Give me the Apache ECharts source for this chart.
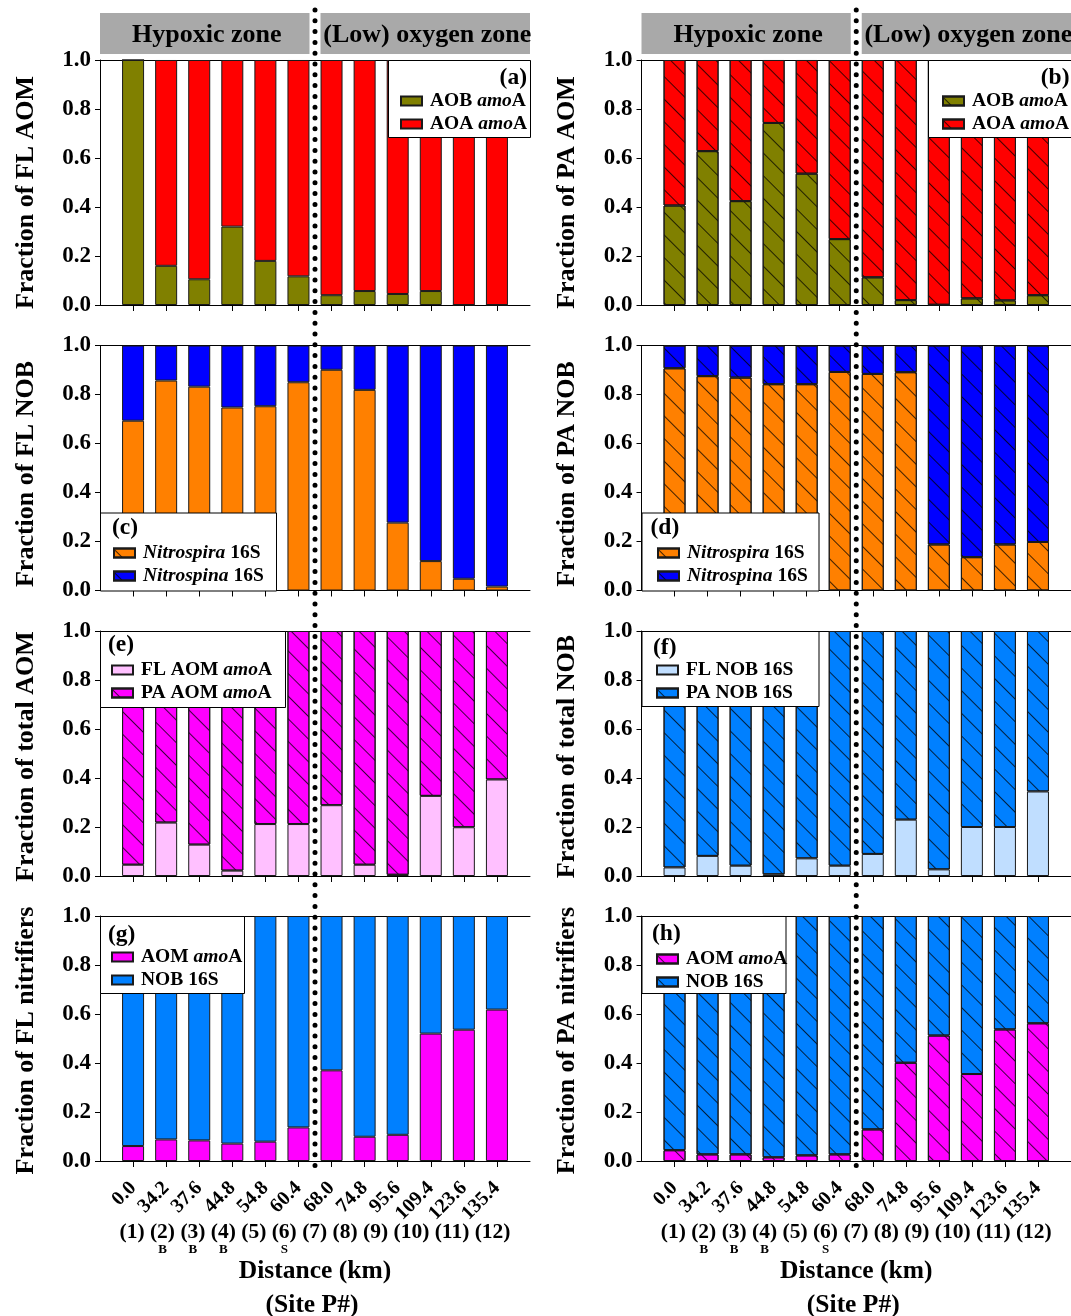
<!DOCTYPE html>
<html>
<head>
<meta charset="utf-8">
<script src="https://cdn.jsdelivr.net/npm/echarts@6/dist/echarts.min.js"></script>
<style>
  html, body { margin: 0; padding: 0; background: #ffffff; }
  #chart { width: 1071px; height: 1316px; }
</style>
</head>
<body>
<div id="chart"></div>
<script>
// ---- data -----------------------------------------------------------------
const DISTANCES = ['0.0', '34.2', '37.6', '44.8', '54.8', '60.4', '68.0', '74.8', '95.6', '109.4', '123.6', '135.4'];
const SITES = ['(1)', '(2)', '(3)', '(4)', '(5)', '(6)', '(7)', '(8)', '(9)', '(10)', '(11)', '(12)'];
const SITE_SUBS = ['', 'B', 'B', 'B', '', 'S', '', '', '', '', '', ''];
const ZONES = ['Hypoxic zone', '(Low) oxygen zone'];

// (a) free-living ammonia oxidisers
const FL_AOB_AMOA = [1.000, 0.160, 0.105, 0.320, 0.180, 0.117, 0.040, 0.057, 0.045, 0.057, 0.000, 0.000];
const FL_AOA_AMOA = [0.000, 0.840, 0.895, 0.680, 0.820, 0.883, 0.960, 0.943, 0.955, 0.943, 1.000, 1.000];
// (b) particle-attached ammonia oxidisers
const PA_AOB_AMOA = [0.406, 0.628, 0.424, 0.743, 0.536, 0.269, 0.113, 0.020, 0.001, 0.027, 0.019, 0.040];
const PA_AOA_AMOA = [0.594, 0.372, 0.576, 0.257, 0.464, 0.731, 0.887, 0.980, 0.999, 0.973, 0.981, 0.960];
// (c) free-living nitrite oxidisers
const FL_NITROSPIRA = [0.693, 0.857, 0.832, 0.747, 0.752, 0.850, 0.901, 0.819, 0.277, 0.120, 0.048, 0.016];
const FL_NITROSPINA = [0.307, 0.143, 0.168, 0.253, 0.248, 0.150, 0.099, 0.181, 0.723, 0.880, 0.952, 0.984];
// (d) particle-attached nitrite oxidisers
const PA_NITROSPIRA = [0.907, 0.875, 0.869, 0.842, 0.842, 0.892, 0.884, 0.891, 0.188, 0.136, 0.188, 0.198];
const PA_NITROSPINA = [0.093, 0.125, 0.131, 0.158, 0.158, 0.108, 0.116, 0.109, 0.812, 0.864, 0.812, 0.802];
// (e) total AOM split by lifestyle
const TOT_FL_AOM = [0.046, 0.218, 0.128, 0.022, 0.212, 0.212, 0.289, 0.046, 0.005, 0.327, 0.199, 0.394];
const TOT_PA_AOM = [0.954, 0.782, 0.872, 0.978, 0.788, 0.788, 0.711, 0.954, 0.995, 0.673, 0.801, 0.606];
// (f) total NOB split by lifestyle
const TOT_FL_NOB = [0.035, 0.082, 0.042, 0.007, 0.072, 0.042, 0.090, 0.230, 0.027, 0.200, 0.200, 0.345];
const TOT_PA_NOB = [0.965, 0.918, 0.958, 0.993, 0.928, 0.958, 0.910, 0.770, 0.973, 0.800, 0.800, 0.655];
// (g) free-living nitrifiers
const FL_NIT_AOM = [0.061, 0.088, 0.084, 0.071, 0.079, 0.137, 0.370, 0.099, 0.107, 0.520, 0.536, 0.618];
const FL_NIT_NOB = [0.939, 0.912, 0.916, 0.929, 0.921, 0.863, 0.630, 0.901, 0.893, 0.480, 0.464, 0.382];
// (h) particle-attached nitrifiers
const PA_NIT_AOM = [0.044, 0.027, 0.027, 0.015, 0.023, 0.027, 0.129, 0.401, 0.512, 0.355, 0.537, 0.562];
const PA_NIT_NOB = [0.956, 0.973, 0.973, 0.985, 0.977, 0.973, 0.871, 0.599, 0.488, 0.645, 0.463, 0.438];

// ---- styling --------------------------------------------------------------
const FONT = '"Liberation Serif", "Times New Roman", serif';
const INK = '#000000';
const COLS = [{ left: 100, width: 430 }, { left: 641.5, width: 431.5 }];
const ROW_TOP = [60, 345.5, 631, 916];
const ROW_NAME_SHIFT = [10, 6, 3, 2];   // y-title nudge downwards, per row
const PLOT_H = 245;
const HATCH = {
  symbol: 'rect', symbolSize: 1,
  dashArrayX: [1, 0], dashArrayY: [1, 15],
  rotation: Math.PI / 4,
  color: 'rgba(0,0,0,0.75)'
};

// categories: one empty slot at each end so that bar k sits at position k
const CATS = [''].concat(DISTANCES, ['']);
const pad = arr => ['-'].concat(arr, ['-']);
const onBar = idx => idx >= 1 && idx <= DISTANCES.length;

const PANELS = [
  { key: '(a)', col: 0, row: 0, yName: 'Fraction of FL AOM',
    series: [
      { name: 'AOB amoA', markup: '{g|}{n|AOB }{i|amo}{n|A}', data: FL_AOB_AMOA, color: '#808000' },
      { name: 'AOA amoA', markup: '{g|}{n|AOA }{i|amo}{n|A}', data: FL_AOA_AMOA, color: '#FF0000' }],
    box: [288, 0, 142, 77], letter: { x: 427, y: 18, align: 'right' }, leg: [400, 101] },
  { key: '(b)', col: 1, row: 0, yName: 'Fraction of PA AOM', hatch: true,
    series: [
      { name: 'AOB amoA', markup: '{g|}{n|AOB }{i|amo}{n|A}', data: PA_AOB_AMOA, color: '#808000' },
      { name: 'AOA amoA', markup: '{g|}{n|AOA }{i|amo}{n|A}', data: PA_AOA_AMOA, color: '#FF0000' }],
    box: [286.5, 0, 146, 77], letter: { x: 428, y: 18, align: 'right' }, leg: [942, 101] },
  { key: '(c)', col: 0, row: 1, yName: 'Fraction of FL NOB', legendHatch: true,
    series: [
      { name: 'Nitrospira 16S', markup: '{g|}{i|Nitrospira}{n| 16S}', data: FL_NITROSPIRA, color: '#FF8000' },
      { name: 'Nitrospina 16S', markup: '{g|}{i|Nitrospina}{n| 16S}', data: FL_NITROSPINA, color: '#0000FF' }],
    box: [0, 167, 176, 78], letter: { x: 12, y: 182, align: 'left' }, leg: [113, 553] },
  { key: '(d)', col: 1, row: 1, yName: 'Fraction of PA NOB', hatch: true,
    series: [
      { name: 'Nitrospira 16S', markup: '{g|}{i|Nitrospira}{n| 16S}', data: PA_NITROSPIRA, color: '#FF8000' },
      { name: 'Nitrospina 16S', markup: '{g|}{i|Nitrospina}{n| 16S}', data: PA_NITROSPINA, color: '#0000FF' }],
    box: [0, 167, 177, 78], letter: { x: 9, y: 182, align: 'left' }, leg: [657, 553] },
  { key: '(e)', col: 0, row: 2, yName: 'Fraction of total AOM',
    series: [
      { name: 'FL AOM amoA', markup: '{g|}{n|FL AOM }{i|amo}{n|A}', data: TOT_FL_AOM, color: '#FFC0FF' },
      { name: 'PA AOM amoA', markup: '{g|}{n|PA AOM }{i|amo}{n|A}', data: TOT_PA_AOM, color: '#FF00FF', hatch: true }],
    box: [0, 0, 185, 76], letter: { x: 8, y: 14, align: 'left' }, leg: [111, 670] },
  { key: '(f)', col: 1, row: 2, yName: 'Fraction of total NOB',
    series: [
      { name: 'FL NOB 16S', markup: '{g|}{n|FL NOB 16S}', data: TOT_FL_NOB, color: '#C0DEFF' },
      { name: 'PA NOB 16S', markup: '{g|}{n|PA NOB 16S}', data: TOT_PA_NOB, color: '#0080FF', hatch: true }],
    box: [0, 0, 177, 75], letter: { x: 11.5, y: 17, align: 'left' }, leg: [656, 670] },
  { key: '(g)', col: 0, row: 3, yName: 'Fraction of FL nitrifiers', bottom: true,
    series: [
      { name: 'AOM amoA', markup: '{g|}{n|AOM }{i|amo}{n|A}', data: FL_NIT_AOM, color: '#FF00FF' },
      { name: 'NOB 16S', markup: '{g|}{n|NOB 16S}', data: FL_NIT_NOB, color: '#0080FF' }],
    box: [0, 0, 144, 77], letter: { x: 8, y: 19, align: 'left' }, leg: [111, 957] },
  { key: '(h)', col: 1, row: 3, yName: 'Fraction of PA nitrifiers', bottom: true, hatch: true,
    series: [
      { name: 'AOM amoA', markup: '{g|}{n|AOM }{i|amo}{n|A}', data: PA_NIT_AOM, color: '#FF00FF' },
      { name: 'NOB 16S', markup: '{g|}{n|NOB 16S}', data: PA_NIT_NOB, color: '#0080FF' }],
    box: [0, 0, 144, 77], letter: { x: 10.5, y: 18, align: 'left' }, leg: [656, 959] }
];

const RICH = {
  g: { width: 3 },
  n: { fontFamily: FONT, fontWeight: 'bold', fontSize: 19.5, color: INK, lineHeight: 22 },
  i: { fontFamily: FONT, fontWeight: 'bold', fontStyle: 'italic', fontSize: 19.5, color: INK, lineHeight: 22 }
};

// ---- option ---------------------------------------------------------------
const grid = [], xAxis = [], yAxis = [], series = [], legend = [];
const markupOf = {};

PANELS.forEach((p, i) => {
  const c = COLS[p.col];
  grid.push({ left: c.left, top: ROW_TOP[p.row], width: c.width, height: PLOT_H });

  xAxis.push({
    type: 'category', gridIndex: i, data: CATS, boundaryGap: false,
    axisLine: { show: true, lineStyle: { color: INK, width: 1 } },
    axisTick: { show: true, interval: onBar, length: 6, lineStyle: { color: INK } },
    axisLabel: {
      show: !!p.bottom, interval: onBar, rotate: 45, margin: 24,
      fontFamily: FONT, fontWeight: 'bold', fontSize: 20, color: INK
    },
    splitLine: { show: false }
  });

  yAxis.push({
    type: 'value', gridIndex: i, min: 0, max: 1, interval: 0.2,
    axisLine: { show: true, lineStyle: { color: INK, width: 1 } },
    axisTick: { show: true, length: 5, lineStyle: { color: INK } },
    axisLabel: {
      formatter: v => v.toFixed(1), margin: 9,
      fontFamily: FONT, fontWeight: 'bold', fontSize: 23, color: INK
    },
    splitLine: { show: false },
    name: p.yName, nameLocation: 'middle', nameGap: 61,
    nameTextStyle: {
      fontFamily: FONT, fontWeight: 'bold', fontSize: 26, color: INK,
      padding: [0, 2 * ROW_NAME_SHIFT[p.row], 0, 0]
    }
  });

  const legendData = [];
  p.series.forEach(s => {
    const id = p.key + '|' + s.name;
    markupOf[id] = s.markup;
    const hatched = !!(p.hatch || s.hatch);
    series.push({
      type: 'bar', name: id, xAxisIndex: i, yAxisIndex: i, stack: 'stack' + i,
      barWidth: 22, data: pad(s.data),
      itemStyle: Object.assign(
        { color: s.color, borderColor: '#1a1a1a', borderWidth: 1 },
        hatched ? { decal: HATCH } : {}),
      emphasis: { disabled: true }, silent: true
    });
    legendData.push({ name: id });
  });

  const leg = {
    data: legendData, orient: 'vertical', selectedMode: false, z: 60,
    left: p.leg[0], top: p.leg[1] - 11,
    itemWidth: 21, itemHeight: 9, itemGap: 1, padding: 0, icon: 'rect',
    formatter: name => markupOf[name],
    textStyle: { rich: RICH, fontFamily: FONT, fontSize: 19.5, fontWeight: 'bold', color: INK, lineHeight: 22 }
  };
  if (p.legendHatch) leg.itemStyle = { decal: HATCH };
  legend.push(leg);
});

// top frame lines: a label-less category axis on the top edge of each plot
PANELS.forEach((p, i) => {
  xAxis.push({
    type: 'category', gridIndex: i, data: CATS, boundaryGap: false, position: 'top',
    axisLine: { show: true, lineStyle: { color: INK, width: 1 } },
    axisTick: { show: false }, axisLabel: { show: false }, splitLine: { show: false }
  });
});

const chart = echarts.init(document.getElementById('chart'), null, { renderer: 'canvas' });
chart.setOption({
  backgroundColor: '#ffffff', animation: false,
  grid, xAxis, yAxis, series, legend
});

// ---- decorations positioned from the axes --------------------------------
const measure = (() => {
  const ctx = document.createElement('canvas').getContext('2d');
  return (txt, font) => { ctx.font = font; return ctx.measureText(txt).width; };
})();

const graphics = [];
const LAST = DISTANCES.length + 1;

[0, 1].forEach(col => {
  const top = PANELS.findIndex(p => p.col === col && p.row === 0);
  const bot = PANELS.findIndex(p => p.col === col && p.bottom);
  const left = chart.convertToPixel({ gridIndex: top }, [0, 0])[0];
  const right = chart.convertToPixel({ gridIndex: top }, [LAST, 0])[0];
  const x6 = chart.convertToPixel({ gridIndex: top }, [6, 0])[0];
  const x7 = chart.convertToPixel({ gridIndex: top }, [7, 0])[0];
  const mid = (x6 + x7) / 2;
  const yBottom = chart.convertToPixel({ gridIndex: bot }, [0, 0])[1];

  // zone banners
  [[left, mid - 5.5, ZONES[0]], [mid + 5.5, right, ZONES[1]]].forEach(([a, b, t]) => {
    graphics.push({ type: 'rect', z: 10, shape: { x: a, y: 13, width: b - a, height: 41 },
      style: { fill: '#A9A9A9' } });
    graphics.push({ type: 'text', z: 11, x: (a + b) / 2 + 2, y: 35,
      style: { text: t, font: 'bold 26px ' + FONT, fill: INK, align: 'center', verticalAlign: 'middle' } });
  });

  // dotted divider between the hypoxic and oxygenated sites
  graphics.push({ type: 'line', z: 100, shape: { x1: mid, y1: 10, x2: mid, y2: yBottom + 6 },
    style: { stroke: INK, lineWidth: 5, lineDash: [0, 10.8], lineCap: 'round' } });

  // site numbers under the distance labels
  const siteFont = 'bold 21.5px ' + FONT;
  const rowText = SITES.join(' ');
  const centre = (left + right) / 2;
  let x = centre - measure(rowText, siteFont) / 2;
  SITES.forEach((s, k) => {
    const w = measure(s, siteFont);
    graphics.push({ type: 'text', z: 20, x: x + w / 2, y: 1232,
      style: { text: s, font: siteFont, fill: INK, align: 'center', verticalAlign: 'middle' } });
    if (SITE_SUBS[k]) {
      graphics.push({ type: 'text', z: 20, x: x + w / 2, y: 1250,
        style: { text: SITE_SUBS[k], font: 'bold 13px ' + FONT, fill: INK, align: 'center', verticalAlign: 'middle' } });
    }
    x += w + measure(' ', siteFont);
  });
  graphics.push({ type: 'text', z: 20, x: centre, y: 1271,
    style: { text: 'Distance (km)', font: 'bold 25.5px ' + FONT, fill: INK, align: 'center', verticalAlign: 'middle' } });
  graphics.push({ type: 'text', z: 20, x: centre - 3, y: 1305,
    style: { text: '(Site P#)', font: 'bold 25.5px ' + FONT, fill: INK, align: 'center', verticalAlign: 'middle' } });
});

// legend frames and panel letters
PANELS.forEach((p, i) => {
  const gx = COLS[p.col].left, gy = ROW_TOP[p.row];
  const [bx, by, bw, bh] = p.box;
  graphics.push({ type: 'rect', z: 50, shape: { x: gx + bx + 0.5, y: gy + by + 0.5, width: bw, height: bh },
    style: { fill: '#ffffff', stroke: INK, lineWidth: 1 } });
  graphics.push({ type: 'text', z: 55, x: gx + p.letter.x, y: gy + p.letter.y,
    style: { text: p.key, font: 'bold 23.5px ' + FONT, fill: INK, align: p.letter.align, verticalAlign: 'middle' } });
});

chart.setOption({ graphic: { elements: graphics } });
</script>
</body>
</html>
